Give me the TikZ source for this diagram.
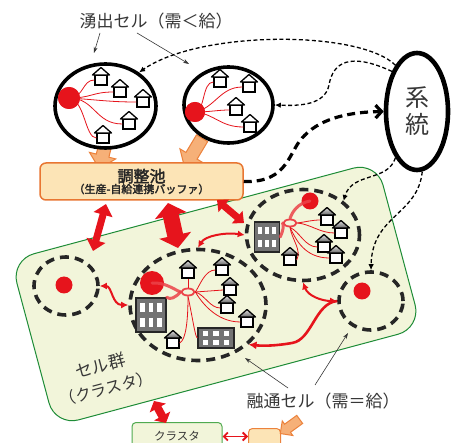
\documentclass[tikz,border=0pt]{standalone}
\usepackage{fontspec}
\usetikzlibrary{arrows.meta,shapes.geometric,shapes.arrows,shadows}
\newfontfamily\jp{Noto Sans CJK JP}
\newfontfamily\jpb[FakeBold=2.5]{Noto Sans CJK JP}
\definecolor{cred}{RGB}{230,20,28}
\definecolor{ink}{RGB}{55,55,55}
\definecolor{poolfill}{RGB}{252,228,182}
\definecolor{pooldraw}{RGB}{232,118,50}
\definecolor{orfill}{RGB}{246,176,120}
\definecolor{ordraw}{RGB}{236,130,60}
\definecolor{clfill}{RGB}{242,245,218}
\definecolor{cldraw}{RGB}{30,140,55}
\definecolor{boxgreen}{RGB}{80,170,80}

\tikzset{
  txt/.style={inner sep=1pt, text=ink, font=\jp},
  solidcell/.style={ellipse, draw=black, line width=3.6pt, fill=white, inner sep=0pt,
    drop shadow={opacity=0.15, shadow xshift=1.5pt, shadow yshift=-1.5pt}},
  dashcell/.style={ellipse, draw=black!85, line width=3.6pt, dash pattern=on 9pt off 6pt, inner sep=0pt},
  spot/.style={circle, fill=cred, inner sep=0pt, minimum size=#1},
  hubring/.style={ellipse, draw=cred!80, line width=1.8pt, inner sep=0pt, minimum width=13pt, minimum height=7pt},
  feed/.style={draw=cred, line width=0.8pt},
  feedthick/.style={draw=cred!80, line width=3pt, line cap=round, opacity=0.85},
  housebody/.style={rectangle, draw=black, line width=1.3pt, fill=white, minimum width=12pt, minimum height=10pt, inner sep=0pt},
  roof/.style={fill=white},
  bldgbody/.style={rectangle, draw=black!85, line width=1.5pt, fill=black!55, inner sep=0pt},
  pics/house/.style={code={
    \node[housebody] (-b) at (0,0) {};
    \draw[line width=1.3pt, line join=round, roof] (-8.5,-5) -- (0,-12.5) -- (8.5,-5) -- cycle;
  }},
  pics/bldg/.style 2 args={code={
    \node[bldgbody, minimum width=#1pt, minimum height=#2pt] (-b) at (0,0) {};
    \foreach \i in {-1,0,1}{
      \foreach \j in {-1,1}{
        \fill[white] ({\i*0.29*#1-0.08*#1},{\j*0.22*#2-0.12*#2}) rectangle ++({0.16*#1},{0.24*#2});
      }
    }
  }},
  cluster/.style={rectangle, rounded corners=24pt, fill=clfill, draw=cldraw, line width=1pt,
    minimum width=379pt, minimum height=172pt, rotate=15},
  pool/.style={rectangle, rounded corners=6pt, fill=poolfill, draw=pooldraw, line width=1.5pt,
    minimum width=203pt, minimum height=37pt, inner sep=0pt, align=center, text=black!85, font=\jpb},
  feedarrow/.style={single arrow, fill=orfill, draw=ordraw, line width=1pt, inner sep=6pt,
    single arrow head extend=7pt},
  linkthin/.style={draw=black, line width=1.3pt, dash pattern=on 4pt off 2.5pt,
    -{Latex[length=6pt,width=5.5pt]}},
  linkthick/.style={draw=black, line width=3.2pt, dash pattern=on 8pt off 5pt,
    -{Straight Barb[length=6pt,width=13pt]}},
  notearrow/.style={draw=ink, line width=0.6pt, -{Stealth[length=6pt,width=4pt]}},
  swap/.style={draw=cred, line width=#1},
  thinswap/.style={draw=cred, line width=2pt},
}

\begin{document}
\begin{tikzpicture}[x=1pt, y=-1pt]
\useasboundingbox (0,0) rectangle (452,443);
\clip (0,0) rectangle (452,443);
\fill[white] (0,0) rectangle (452,443);

% heading and its pointers
\node[txt, font=\jp\fontsize{17}{20}\selectfont] (title) at (156,21) {湧出セル（需＜給）};
\coordinate (t1a) at (100,33); \coordinate (t1b) at (94,53);
\coordinate (t2a) at (137,33); \coordinate (t2b) at (189,64);
\draw[notearrow] (t1a) -- (t1b);
\draw[notearrow] (t2a) -- (t2b);

% cluster of cells
\node[cluster] (cl) at (216,294) {};

% orange supply arrows into the pool
\node[feedarrow, minimum height=28pt, rotate=-104] (oa1) at (103.5,152) {};
\node[feedarrow, minimum height=34pt, rotate=-121] (oa2) at (195,150) {};

% surplus cell 1
\node[solidcell, minimum width=101pt, minimum height=84pt] (c1) at (105.5,106) {};
\pic (a1) at (101,80) {house};
\pic (a2) at (120,92) {house};
\pic (a3) at (143,102) {house};
\pic (a4) at (129,124) {house};
\pic (a5) at (103,138) {house};
\node[spot=22pt] (d1) at (69,98) {};
\draw[feed] (d1.center) .. controls (84,98) and (82,80) .. (a1-b.west);
\draw[feed] (d1.center) .. controls (92,98) and (92,92) .. (a2-b.west);
\draw[feed] (d1.center) .. controls (100,100) and (110,102) .. (a3-b.west);
\draw[feed] (d1.center) .. controls (95,98) and (95,124) .. (a4-b.west);
\draw[feed] (d1.center) .. controls (85,100) and (85,138) .. (a5-b.west);
\node[spot=22pt] (d1) at (69,98) {};

% surplus cell 2
\node[solidcell, minimum width=89pt, minimum height=76pt] (c2) at (228.5,105) {};
\pic (b1) at (220,82) {house};
\pic (b2) at (249,87) {house};
\pic (b3) at (236,110) {house};
\pic (b4) at (250,127) {house};
\node[spot=20pt] (d2) at (195,112) {};
\draw[feed] (d2.center) .. controls (205,112) and (202,82) .. (b1-b.west);
\draw[feed] (d2.center) .. controls (215,108) and (220,87) .. (b2-b.west);
\draw[feed] (d2.center) .. controls (210,112) and (218,110) .. (b3-b.west);
\draw[feed] (d2.center) .. controls (215,114) and (220,127) .. (b4-b.west);
\node[spot=20pt] (d2) at (195,112) {};

% grid
\node[solidcell, line width=4.6pt, minimum width=62pt, minimum height=117pt] (sys) at (417,111.5) {};
\node[txt, font=\jp\fontsize{24}{27}\selectfont, align=center] (systxt) at (sys.center) {系\\統};

% links to and from the grid
\draw[linkthin] (sys.115) .. controls (360,30) and (200,30) .. (c1.45);
\draw[linkthin] (sys.122) .. controls (350,52) and (333,62) .. (329,85)
  .. controls (325,105) and (300,106) .. (c2.east);

% buffer pool
\node[pool] (pool) at (141.5,181.5) {{\fontsize{16}{18}\selectfont 調整池}\\[-1pt]{\fontsize{11}{13}\selectfont （生産-自給連携バッファ）}};
\draw[linkthick] (pool.east) .. controls (290,183) and (288,150) .. (305,135)
  .. controls (322,118) and (350,112) .. (sys.west);

% balanced cells
\node[dashcell, minimum width=64pt, minimum height=58pt] (L) at (66,286) {};
\node[spot=17pt] (dL) at (64,285) {};
\node[dashcell, minimum width=64pt, minimum height=58pt] (R) at (371,301) {};
\node[spot=17pt] (dR) at (362,291) {};

\begin{scope}[roof/.style={top color=black!12, bottom color=black!60}]
  % upper right cell
  \node[dashcell, minimum width=113pt, minimum height=91pt] (UR) at (303,235) {};
  \pic (g3) at (267,237) {bldg={25}{30}};
  \pic (u1) at (327,220) {house};
  \pic (u2) at (341,233) {house};
  \pic (u3) at (324,247) {house};
  \pic (u4) at (336,258) {house};
  \pic (u5) at (290,260) {house};
  \node[hubring] (h3) at (290,223) {};
  \draw[feed] (h3.east) .. controls (305,222) and (312,220) .. (u1-b.west);
  \draw[feed] (h3.east) .. controls (310,224) and (320,233) .. (u2-b.west);
  \draw[feed] (h3.south) .. controls (300,232) and (305,247) .. (u3-b.west);
  \draw[feed] (h3.south) .. controls (296,240) and (305,258) .. (u4-b.west);
  \draw[feed] (h3.south) .. controls (292,240) and (302,250) .. (u5-b.east);
  \draw[feedthick] (h3.west) .. controls (284,226) and (283,231) .. (g3-b.east);
  \node[spot=17pt] (d3) at (310,201) {};
  \draw[feedthick] (d3.center) .. controls (298,203) and (292,212) .. (h3.north);

  % large cell
  \node[dashcell, minimum width=136pt, minimum height=111pt] (B) at (198,305) {};
  \pic (k1) at (151,315) {bldg={30}{34}};
  \pic (k2) at (216,338) {bldg={36}{20}};
  \pic (v1) at (188,273) {house};
  \pic (v2) at (222,270) {house};
  \pic (v3) at (230,290) {house};
  \pic (v4) at (227,308) {house};
  \pic (v5) at (247,322) {house};
  \pic (v6) at (173,343) {house};
  \node[hubring] (h4) at (188,292) {};
  \draw[feed] (h4.north) -- (v1-b.south);
  \draw[feed] (h4.east) .. controls (200,285) and (205,270) .. (v2-b.west);
  \draw[feed] (h4.east) -- (v3-b.west);
  \draw[feed] (h4.east) .. controls (205,295) and (210,308) .. (v4-b.west);
  \draw[feed] (h4.east) .. controls (200,300) and (215,322) .. (v5-b.west);
  \draw[feed] (h4.south) .. controls (188,320) and (186,340) .. (v6-b.east);
  \draw[feed] (h4.south) .. controls (193,320) and (195,336) .. (k2-b.west);
  \draw[feedthick] (h4.west) .. controls (175,298) and (170,300) .. (k1-b.north east);
  \node[spot=24pt] (d4) at (152,283) {};
  \draw[feedthick] (d4.center) .. controls (165,282) and (175,290) .. (h4.west);
\end{scope}

% grid links down into the cluster
\draw[linkthin] (sys.-115) .. controls (388,182) and (352,172) .. (UR.40);
\draw[linkthin] (sys.-85) .. controls (418,215) and (372,215) .. (R.north);

% exchanges between pool and cells
\coordinate (r1a) at (106,204); \coordinate (r1b) at (93,251);
\coordinate (r2a) at (168,203); \coordinate (r2b) at (178,248);
\coordinate (r3a) at (217,200); \coordinate (r3b) at (244,223);
\draw[swap=7pt, {Triangle[length=11pt,width=19pt]}-{Triangle[length=11pt,width=19pt]}] (r1a) -- (r1b);
\draw[swap=16pt, {Triangle[length=13pt,width=32pt]}-{Triangle[length=13pt,width=32pt]}] (r2a) -- (r2b);
\draw[swap=7pt, {Triangle[length=9pt,width=16pt]}-{Triangle[length=9pt,width=16pt]}] (r3a) -- (r3b);

% exchanges between cells
\draw[thinswap, {Latex[length=7pt,width=7pt]}-{Latex[length=7pt,width=7pt]}] (B.north) .. controls (205,236) and (225,232) .. (UR.west);
\draw[thinswap, {Latex[length=7pt,width=7pt]}-{Latex[length=7pt,width=7pt]}] (L.east) .. controls (112,286) and (112,305) .. (B.west);
\draw[thinswap, {Latex[length=7pt,width=7pt]}-{Latex[length=7pt,width=7pt]}] (UR.south) .. controls (308,296) and (322,301) .. (R.west);
\draw[draw=cred, line width=2.6pt, -{Latex[length=8pt,width=8pt]}] (R.west) .. controls (315,303) and (312,340) .. (292,343)
  .. controls (275,346) and (262,346) .. (B.-38);

% captions
\node[txt, font=\jp\fontsize{17}{23}\selectfont, rotate=15, align=center] (grp) at (103.5,377)
  {セル群\\{\fontsize{16}{23}\selectfont （クラスタ）}};
\node[txt, font=\jp\fontsize{17}{20}\selectfont] (fuzu) at (323,401) {融通セル（需＝給）};
\coordinate (f1a) at (288,388); \coordinate (f1b) at (245,358);
\coordinate (f2a) at (315,385); \coordinate (f2b) at (348,333);
\draw[notearrow] (f1a) -- (f1b);
\draw[notearrow] (f2a) -- (f2b);

% neighbouring cluster
\node[rectangle, rounded corners=4pt, fill=clfill, draw=boxgreen, line width=1pt, anchor=north,
  minimum width=90pt, minimum height=28pt, txt, font=\jp\fontsize{11.5}{13}\selectfont] (clbox) at (177,422) {クラスタ};
\node[rectangle, rounded corners=4pt, fill=poolfill, draw=ordraw, line width=1pt, anchor=north west,
  minimum width=32pt, minimum height=30pt] (obox) at (248,428) {};
\node[feedarrow, minimum height=24pt, inner sep=4.5pt, single arrow head extend=4pt, rotate=-144] (oa3) at (292,425) {};
\coordinate (r4a) at (154,401); \coordinate (r4b) at (166,423);
\draw[swap=8pt, {Triangle[length=8pt,width=18pt]}-{Triangle[length=8pt,width=18pt]}] (r4a) -- (r4b);
\draw[draw=cred, line width=1.8pt, {Straight Barb[length=4pt,width=8pt]}-{Straight Barb[length=4pt,width=8pt]}] (clbox.east) -- (obox.west |- clbox.east);
\end{tikzpicture}
\end{document}
